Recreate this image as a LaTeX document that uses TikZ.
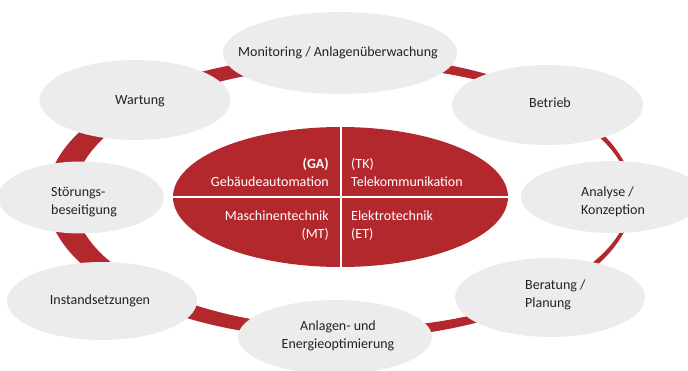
\documentclass[tikz,border=0pt]{standalone}
\usepackage{fontspec}
\setmainfont{Carlito}
\usetikzlibrary{shapes.geometric}
\definecolor{ringred}{HTML}{B3282D}
\definecolor{bubblegray}{HTML}{EBECEB}
\definecolor{txtgray}{HTML}{222222}
\begin{document}
\begin{tikzpicture}[x=1pt,y=-1pt,
  bubble/.style={ellipse, fill=bubblegray, inner sep=0pt},
  btext/.style={font=\fontsize{14}{18}\selectfont, text=txtgray, inner sep=0pt},
  ctext/.style={font=\fontsize{14}{18}\selectfont, text=white, inner sep=0pt},
  divider/.style={white, line width=2pt}]
\useasboundingbox (0,0) rectangle (688,371);
\begin{scope}
\clip (0,0) rectangle (688,371);
% ring
\fill[ringred, even odd rule] (340,197) ellipse [x radius=293pt, y radius=142pt]
  (352,197) ellipse [x radius=278pt, y radius=131pt];
% core
\node[ellipse, fill=ringred, inner sep=0pt, minimum width=335pt, minimum height=140pt] (core) at (340.5,197) {};
\draw[divider] (core.north) -- (core.south);
\draw[divider] (core.west) -- (core.east);
% bubbles
\node[bubble, minimum width=234pt, minimum height=82pt] (mon) at (340,53) {};
\node[bubble, minimum width=191pt, minimum height=80pt] (wart) at (135,100) {};
\node[bubble, minimum width=166pt, minimum height=72pt] (stoer) at (81,197.5) {};
\node[bubble, minimum width=190pt, minimum height=78pt] (inst) at (102,301) {};
\node[bubble, minimum width=194pt, minimum height=74pt] (anl) at (335,337) {};
\node[bubble, minimum width=190pt, minimum height=79pt] (ber) at (550,297.5) {};
\node[bubble, minimum width=182pt, minimum height=72pt] (ana) at (612,197) {};
\node[bubble, minimum width=191pt, minimum height=80pt] (betr) at (547.5,105) {};
\end{scope}
% bubble texts
\node[btext] (tmon) at (338,53) {Monitoring / Anlagenüberwachung};
\node[btext] (twart) at (140,101) {Wartung};
\node[btext, anchor=west, align=left] (tstoer) at (51,202) {Störungs-\\beseitigung};
\node[btext] (tinst) at (100,301) {Instandsetzungen};
\node[btext, align=center] (tanl) at (338,336) {Anlagen- und\\Energieoptimierung};
\node[btext, anchor=west, align=left] (tber) at (525,295) {Beratung /\\Planung};
\node[btext, anchor=west, align=left] (tana) at (581,202) {Analyse /\\Konzeption};
\node[btext] (tbetr) at (550,103) {Betrieb};
% core texts
\node[ctext, anchor=east, align=right] (tga) at (329,172) {\textbf{(GA)}\\Gebäudeautomation};
\node[ctext, anchor=west, align=left] (ttk) at (351,172) {(TK)\\Telekommunikation};
\node[ctext, anchor=east, align=right] (tmt) at (329,226) {Maschinentechnik\\(MT)};
\node[ctext, anchor=west, align=left] (tet) at (351,226) {Elektrotechnik\\(ET)};
\end{tikzpicture}
\end{document}
